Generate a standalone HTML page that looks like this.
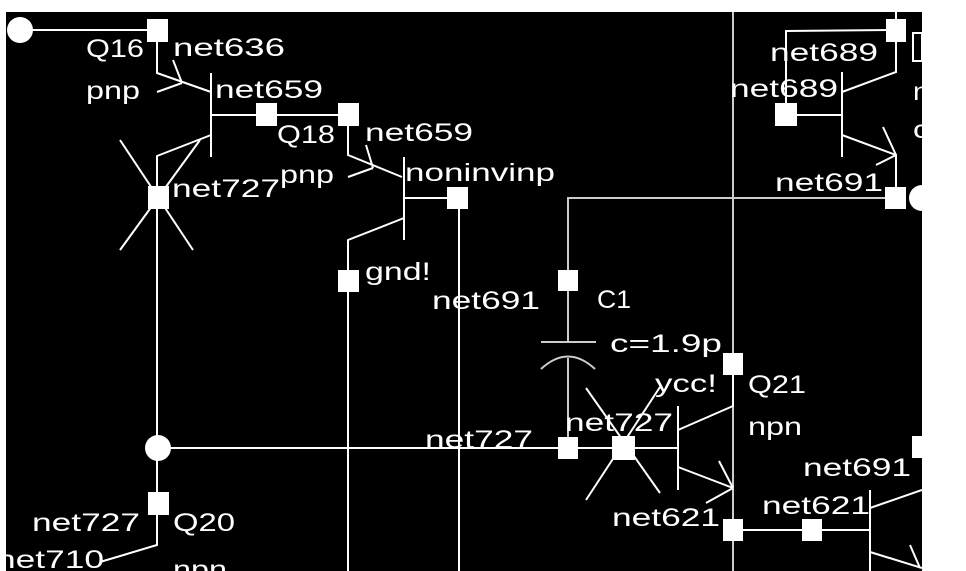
<!DOCTYPE html>
<html><head><meta charset="utf-8"><style>
html,body{margin:0;padding:0;background:#fff;width:966px;height:571px;overflow:hidden}
svg{display:block}
text{font-family:"Liberation Sans",sans-serif;font-size:25px;fill:#fff}
</style></head><body>
<svg width="966" height="571" viewBox="0 0 966 571" xmlns="http://www.w3.org/2000/svg">
<defs><clipPath id="c"><rect x="6" y="12" width="916" height="559"/></clipPath></defs>
<rect x="6" y="12" width="916" height="559" fill="#000"/>
<g clip-path="url(#c)" stroke="#fff" stroke-width="2" fill="none">
<line x1="20" y1="30" x2="157" y2="30"/>
<polyline points="157,30 157,73 211,92"/>
<line x1="157" y1="92" x2="182" y2="83"/><line x1="173" y1="60" x2="182" y2="83"/>
<line x1="211" y1="73" x2="211" y2="157"/>
<line x1="211" y1="115" x2="348" y2="115"/>
<polyline points="211,135 157,156 157,448"/>
<line x1="120" y1="140" x2="193" y2="250"/><line x1="200" y1="140" x2="120" y2="250"/>
<polyline points="157,448 157,545 100,562"/>
<polyline points="348,115 348,155 402,177"/>
<line x1="348" y1="177" x2="373" y2="168"/><line x1="366" y1="145" x2="373" y2="168"/>
<line x1="404" y1="157" x2="404" y2="240"/>
<line x1="404" y1="198" x2="457" y2="198"/>
<polyline points="404,218 348,240 348,571"/>
<line x1="459" y1="198" x2="459" y2="571"/>
<line x1="158" y1="448" x2="678" y2="448"/>
<g stroke="#ccc">
<polyline points="895,198 568,198 568,343"/>
<line x1="541" y1="342" x2="596" y2="342"/>
<path d="M541 369 Q568 344 595 369"/>
<line x1="568" y1="358" x2="568" y2="448"/>
<line x1="733" y1="12" x2="733" y2="571"/>
</g>
<line x1="586" y1="388" x2="660" y2="493"/><line x1="660" y1="387" x2="586" y2="500"/>
<line x1="678" y1="406" x2="678" y2="490"/>
<polyline points="678,430 733,406 733,363"/>
<line x1="678" y1="467" x2="733" y2="488"/>
<line x1="719" y1="461" x2="733" y2="488"/><line x1="706" y1="503" x2="733" y2="488"/>
<line x1="733" y1="530" x2="870" y2="530"/>
<line x1="870" y1="490" x2="870" y2="571"/>
<line x1="870" y1="508" x2="922" y2="490"/>
<line x1="870" y1="552" x2="922" y2="568"/><line x1="910" y1="545" x2="920" y2="568"/>
<polyline points="896,30 786,31 786,115 842,115"/>
<line x1="842" y1="72" x2="842" y2="157"/>
<polyline points="842,92 896,72 896,12"/>
<polyline points="842,135 896,155 896,198"/>
<line x1="883" y1="127" x2="896" y2="155"/><line x1="876" y1="165" x2="896" y2="155"/>
</g>
<g clip-path="url(#c)" fill="#fff">
<circle cx="20" cy="30" r="13"/><circle cx="158" cy="448" r="13"/><circle cx="922" cy="198" r="13"/>
<rect x="147" y="19" width="21" height="23"/>
<rect x="256" y="103" width="21" height="23"/>
<rect x="338" y="103" width="21" height="23"/>
<rect x="148" y="186" width="21" height="23"/>
<rect x="447" y="187" width="21" height="22"/>
<rect x="338" y="270" width="21" height="22"/>
<rect x="558" y="270" width="20" height="21"/>
<rect x="723" y="353" width="20" height="22"/>
<rect x="558" y="437" width="20" height="22"/>
<rect x="612" y="436" width="23" height="24"/>
<rect x="148" y="492" width="21" height="23"/>
<rect x="723" y="519" width="20" height="22"/>
<rect x="802" y="519" width="20" height="22"/>
<rect x="912" y="436" width="12" height="22"/>
<rect x="886" y="19" width="20" height="23"/>
<rect x="775" y="103" width="22" height="23"/>
<rect x="885" y="187" width="21" height="22"/>
<rect x="913" y="33" width="9" height="28" fill="none" stroke="#fff" stroke-width="2"/>
</g>
<g clip-path="url(#c)">
<text x="86" y="57" textLength="58" lengthAdjust="spacingAndGlyphs">Q16</text>
<text x="173" y="56" textLength="112" lengthAdjust="spacingAndGlyphs">net636</text>
<text x="86" y="99" textLength="54" lengthAdjust="spacingAndGlyphs">pnp</text>
<text x="215" y="98" textLength="108" lengthAdjust="spacingAndGlyphs">net659</text>
<text x="277" y="143" textLength="58" lengthAdjust="spacingAndGlyphs">Q18</text>
<text x="365" y="141" textLength="108" lengthAdjust="spacingAndGlyphs">net659</text>
<text x="172" y="197" textLength="108" lengthAdjust="spacingAndGlyphs">net727</text>
<text x="280" y="183" textLength="54" lengthAdjust="spacingAndGlyphs">pnp</text>
<text x="405" y="181" textLength="150" lengthAdjust="spacingAndGlyphs">noninvinp</text>
<text x="365" y="280" textLength="66" lengthAdjust="spacingAndGlyphs">gnd!</text>
<text x="432" y="309" textLength="108" lengthAdjust="spacingAndGlyphs">net691</text>
<text x="597" y="308" textLength="34" lengthAdjust="spacingAndGlyphs">C1</text>
<text x="610" y="352" textLength="112" lengthAdjust="spacingAndGlyphs">c=1.9p</text>
<text x="655" y="392" textLength="62" lengthAdjust="spacingAndGlyphs">ycc!</text>
<text x="748" y="393" textLength="58" lengthAdjust="spacingAndGlyphs">Q21</text>
<text x="748" y="435" textLength="54" lengthAdjust="spacingAndGlyphs">npn</text>
<text x="425" y="448" textLength="108" lengthAdjust="spacingAndGlyphs">net727</text>
<text x="565" y="431" textLength="108" lengthAdjust="spacingAndGlyphs">net727</text>
<text x="612" y="526" textLength="108" lengthAdjust="spacingAndGlyphs">net621</text>
<text x="762" y="514" textLength="108" lengthAdjust="spacingAndGlyphs">net621</text>
<text x="803" y="476" textLength="108" lengthAdjust="spacingAndGlyphs">net691</text>
<text x="32" y="531" textLength="108" lengthAdjust="spacingAndGlyphs">net727</text>
<text x="173" y="531" textLength="62" lengthAdjust="spacingAndGlyphs">Q20</text>
<text x="-4" y="568" textLength="108" lengthAdjust="spacingAndGlyphs">net710</text>
<text x="173" y="578" textLength="54" lengthAdjust="spacingAndGlyphs">npn</text>
<text x="770" y="61" textLength="108" lengthAdjust="spacingAndGlyphs">net689</text>
<text x="730" y="97" textLength="108" lengthAdjust="spacingAndGlyphs">net689</text>
<text x="775" y="191" textLength="108" lengthAdjust="spacingAndGlyphs">net691</text>
<text x="913" y="100" textLength="16" lengthAdjust="spacingAndGlyphs">n</text>
<text x="913" y="138" textLength="16" lengthAdjust="spacingAndGlyphs">c</text>
</g>
</svg>
</body></html>
